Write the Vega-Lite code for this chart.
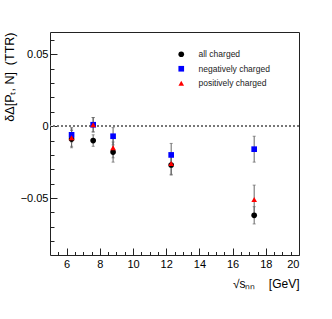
{
  "$schema": "https://vega.github.io/schema/vega-lite/v6.json",
  "width": 249,
  "height": 223,
  "autosize": {"type": "none"},
  "padding": {"left": 50, "top": 32, "right": 33, "bottom": 64},
  "background": "white",
  "config": {
    "font": "Liberation Sans",
    "view": {"stroke": "#222", "strokeWidth": 1},
    "axis": {"domain": false, "grid": false, "tickColor": "#222", "labelColor": "black", "titleColor": "black", "labelFont": "Liberation Sans", "titleFont": "Liberation Sans", "labelFontSize": 11, "titleFontSize": 11, "titleFontWeight": "normal"}
  },
  "data": {
    "values": [
      {"s": 6.3, "val": -0.009, "err": 0.006, "series": "all charged"},
      {"s": 7.6, "val": -0.010, "err": 0.004, "series": "all charged"},
      {"s": 8.8, "val": -0.018, "err": 0.007, "series": "all charged"},
      {"s": 12.3, "val": -0.027, "err": 0.007, "series": "all charged"},
      {"s": 17.3, "val": -0.062, "err": 0.006, "series": "all charged"},
      {"s": 6.3, "val": -0.006, "err": 0.005, "series": "negatively charged"},
      {"s": 7.6, "val": 0.001, "err": 0.005, "series": "negatively charged"},
      {"s": 8.8, "val": -0.007, "err": 0.006, "series": "negatively charged"},
      {"s": 12.3, "val": -0.020, "err": 0.008, "series": "negatively charged"},
      {"s": 17.3, "val": -0.016, "err": 0.009, "series": "negatively charged"},
      {"s": 6.3, "val": -0.008, "err": 0.006, "series": "positively charged"},
      {"s": 7.6, "val": 0.001, "err": 0.005, "series": "positively charged"},
      {"s": 8.8, "val": -0.015, "err": 0.007, "series": "positively charged"},
      {"s": 12.3, "val": -0.026, "err": 0.0075, "series": "positively charged"},
      {"s": 17.3, "val": -0.051, "err": 0.010, "series": "positively charged"}
    ]
  },
  "resolve": {"axis": {"x": "independent", "y": "independent"}},
  "layer": [
    {
      "mark": {"type": "rule", "color": "#777", "strokeDash": [2, 2], "strokeWidth": 0.9},
      "encoding": {
        "y": {"datum": 0, "type": "quantitative", "scale": {"domain": [-0.0896, 0.0655], "nice": false, "zero": false}, "axis": null}
      }
    },
    {
      "mark": {"type": "errorbar", "color": "#666", "thickness": 1, "ticks": {"size": 3, "color": "#666"}},
      "encoding": {
        "x": {"field": "s", "type": "quantitative", "scale": {"domain": [5, 20], "nice": false, "zero": false},
          "axis": {"orient": "bottom", "values": [6, 8, 10, 12, 14, 16, 18, 20], "tickSize": -7, "labelPadding": 10, "title": "√sₙₙ\u00a0\u00a0\u00a0\u00a0[GeV]", "titleAnchor": "end", "titlePadding": 9, "titleFontSize": 12}},
        "y": {"field": "val", "type": "quantitative", "scale": {"domain": [-0.0896, 0.0655], "nice": false, "zero": false},
          "axis": {"orient": "left", "values": [-0.05, 0, 0.05], "tickSize": -7, "labelPadding": 9, "labelExpr": "datum.value == 0 ? '0' : format(datum.value, '.2f')", "title": "δΔ[Pₜ,\u00a0N]\u00a0\u00a0(TTR)", "titleAnchor": "end", "titlePadding": 4, "titleFontSize": 12.5}},
        "yError": {"field": "err"},
        "detail": {"field": "series"}
      }
    },
    {
      "mark": {"type": "point", "filled": true, "size": 32, "opacity": 1},
      "encoding": {
        "x": {"field": "s", "type": "quantitative",
          "axis": {"orient": "bottom", "values": [5.5, 6.5, 7, 7.5, 8.5, 9, 9.5, 10.5, 11, 11.5, 12.5, 13, 13.5, 14.5, 15, 15.5, 16.5, 17, 17.5, 18.5, 19, 19.5], "tickSize": -3.5, "labels": false, "title": null}},
        "y": {"field": "val", "type": "quantitative",
          "axis": {"orient": "left", "values": [-0.08, -0.07, -0.06, -0.04, -0.03, -0.02, -0.01, 0.01, 0.02, 0.03, 0.04, 0.06], "tickSize": -4, "labels": false, "title": null}},
        "color": {"field": "series", "type": "nominal", "scale": {"domain": ["all charged", "negatively charged", "positively charged"], "range": ["black", "blue", "red"]},
          "legend": {"orient": "none", "legendX": 127, "legendY": 18, "title": null, "labelFontSize": 8.5, "labelFont": "Liberation Sans", "labelColor": "#222", "symbolSize": 32, "labelOffset": 13, "rowPadding": 5.5, "padding": 0}},
        "shape": {"field": "series", "type": "nominal", "scale": {"domain": ["all charged", "negatively charged", "positively charged"], "range": ["circle", "square", "triangle-up"]}},
        "order": {"field": "series"}
      }
    }
  ]
}
